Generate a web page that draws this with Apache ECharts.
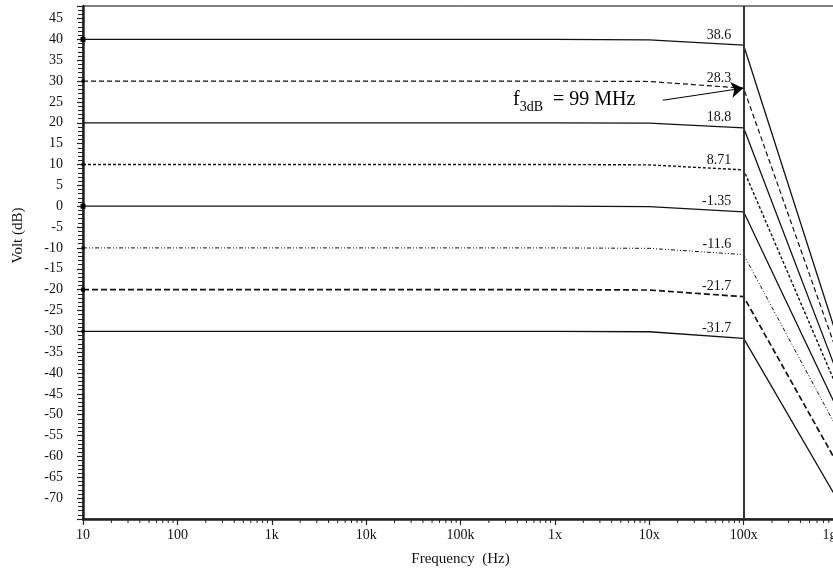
<!DOCTYPE html>
<html>
<head>
<meta charset="utf-8">
<script src="https://cdn.jsdelivr.net/npm/echarts@6/dist/echarts.min.js"></script>
<style>
  html, body { margin: 0; padding: 0; background: #fff; }
  #chart { width: 833px; height: 568px; }
</style>
</head>
<body>
<div id="chart"></div>
<script>
// Frequency sweep points (Hz), one per decade
const freqs = [10, 100, 1e3, 1e4, 1e5, 1e6, 1e7, 1e8, 1e9];

// Gain curves (dB) for each amplifier setting
const gain40  = [40, 40, 40, 40, 40, 40, 39.9, 38.6, -32];
const gain30  = [30, 30, 30, 30, 30, 30, 29.9, 28.3, -35.7];
const gain20  = [20, 20, 20, 20, 20, 20, 19.9, 18.8, -40.5];
const gain10  = [10, 10, 10, 10, 10, 10, 9.9, 8.71, -44];
const gain0   = [0, 0, 0, 0, 0, 0, -0.1, -1.35, -49];
const gainM10 = [-10, -10, -10, -10, -10, -10, -10.1, -11.6, -53.7];
const gainM20 = [-20, -20, -20, -20, -20, -20, -20.1, -21.7, -62];
const gainM30 = [-30, -30, -30, -30, -30, -30, -30.1, -31.7, -70.6];

// Cursor frequency and the values read at it
const cursorFreq = 1e8;
const cursorIndex = 7;

// Tick labels per decade exponent
const xTickLabels = ['1', '10', '100', '1k', '10k', '100k', '1x', '10x', '100x', '1g'];

// Bandwidth annotation
const f3dbText = { sub: '3dB', rest: '  = 99 MHz' };
const f3dbArrowFrom = [1.39e7, 25.4];
const f3dbArrowTo = [99e6, 28.3];
const f3dbTextAt = [3.6e5, 25.6];

const yMin = -75, yMax = 48;
const serif = 'Liberation Serif';

const curves = [
  { name: '40',  data: gain40,  dash: 'solid',            width: 1.3, firstMark: 5 },
  { name: '30',  data: gain30,  dash: [5, 3],             width: 1.2, firstMark: 3 },
  { name: '20',  data: gain20,  dash: 'solid',            width: 1.3, firstMark: 0 },
  { name: '10',  data: gain10,  dash: [3, 2],             width: 1.4, firstMark: 3 },
  { name: '0',   data: gain0,   dash: 'solid',            width: 1.3, firstMark: 5 },
  { name: '-10', data: gainM10, dash: [4, 2, 1, 2, 1, 2], width: 1.0, firstMark: 3 },
  { name: '-20', data: gainM20, dash: [6, 3],             width: 1.7, firstMark: 4 },
  { name: '-30', data: gainM30, dash: 'solid',            width: 1.3, firstMark: 3 }
];

const series = curves.map(function (c) {
  return {
    name: c.name,
    type: 'line',
    showSymbol: true,
    symbol: 'none',
    lineStyle: { color: '#111', width: c.width, type: c.dash },
    data: c.data.map(function (v, i) {
      const item = { value: [freqs[i], v] };
      if (i === 0 && c.firstMark > 0) {
        item.symbol = 'rect';
        item.symbolSize = c.firstMark;
        item.itemStyle = { color: '#000' };
      }
      if (i === cursorIndex) {
        // read-out value at the cursor
        item.symbol = 'circle';
        item.symbolSize = 1;
        item.itemStyle = { color: '#111' };
        item.label = {
          show: true,
          position: 'left',
          distance: 12,
          offset: [0, -10],
          formatter: String(v),
          fontFamily: serif,
          fontSize: 14,
          color: '#111'
        };
      }
      return item;
    }),
    z: 3
  };
});

// Cursor line at the read-out frequency
series.push({
  type: 'line',
  data: [],
  markLine: {
    silent: true,
    symbol: 'none',
    label: { show: false },
    lineStyle: { color: '#333', width: 2, type: 'solid' },
    data: [{ xAxis: cursorFreq }]
  }
});

// f3dB arrow and text
series.push({
  type: 'line',
  data: [],
  markLine: {
    silent: true,
    symbol: ['none', 'arrow'],
    symbolSize: 12,
    label: { show: false },
    lineStyle: { color: '#000', width: 1, type: 'solid' },
    data: [[{ coord: f3dbArrowFrom }, { coord: f3dbArrowTo }]]
  },
  markPoint: {
    silent: true,
    symbolSize: 0,
    data: [{
      coord: f3dbTextAt,
      label: {
        show: true,
        position: 'right',
        distance: 0,
        formatter: '{f|f}{s|' + f3dbText.sub + '}{t|' + f3dbText.rest + '}',
        rich: {
          f: { fontFamily: serif, fontSize: 20, color: '#000' },
          s: { fontFamily: serif, fontSize: 14, color: '#000', padding: [15, 0, 0, 0] },
          t: { fontFamily: serif, fontSize: 20, color: '#000' }
        }
      }
    }]
  }
});

// Log-spaced minor ticks along the frequency axis
const minorFreqs = [];
for (let e = 1; e < 9; e++) {
  for (let k = 2; k <= 9; k++) minorFreqs.push([k * Math.pow(10, e), yMin]);
}
series.push({
  type: 'custom',
  silent: true,
  clip: false,
  data: minorFreqs,
  renderItem: function (params, api) {
    const p = api.coord([api.value(0), api.value(1)]);
    return {
      type: 'line',
      shape: { x1: p[0], y1: p[1] + 1, x2: p[0], y2: p[1] + 4 },
      style: { stroke: '#222', lineWidth: 1 }
    };
  },
  z: 5
});

const chart = echarts.init(document.getElementById('chart'), null, { renderer: 'canvas' });
chart.setOption({
  animation: false,
  backgroundColor: '#fff',
  grid: {
    left: 83, right: -5, top: 6, bottom: 49,
    containLabel: false,
    outerBoundsMode: 'none',
    show: true, borderColor: '#000', borderWidth: 1, backgroundColor: '#fff'
  },
  xAxis: {
    type: 'log',
    logBase: 10,
    min: 10,
    max: 1e9,
    name: 'Frequency  (Hz)',
    nameLocation: 'middle',
    nameGap: 33,
    nameTextStyle: { fontFamily: serif, fontSize: 15, color: '#111' },
    axisLine: { show: true, onZero: false, lineStyle: { color: '#222', width: 2.5 } },
    axisTick: { show: true, length: 6, lineStyle: { color: '#222', width: 1.2 } },
    axisLabel: {
      fontFamily: serif, fontSize: 14, color: '#111', margin: 9,
      hideOverlap: false,
      showMaxLabel: true,
      formatter: function (v) {
        const e = Math.round(Math.log10(v));
        const txt = xTickLabels[e] || '';
        // the last decade label sits at the window edge; nudge it inward
        return e === xTickLabels.length - 1 ? '{edge|' + txt + '}' : txt;
      },
      rich: {
        edge: { fontFamily: serif, fontSize: 14, color: '#111', padding: [0, 17, 0, 0] }
      }
    },
    splitLine: { show: false }
  },
  yAxis: {
    type: 'value',
    min: yMin,
    max: yMax,
    interval: 5,
    name: 'Volt (dB)',
    nameLocation: 'middle',
    nameGap: 57,
    nameRotate: 90,
    nameTextStyle: { fontFamily: serif, fontSize: 15, color: '#111', padding: [0, 0, 0, 54] },
    axisLine: { show: true, onZero: false, lineStyle: { color: '#222', width: 2.5 } },
    axisTick: { show: true, length: 6, lineStyle: { color: '#222', width: 1.2 } },
    minorTick: { show: true, splitNumber: 5, length: 5, lineStyle: { color: '#222', width: 1 } },
    axisLabel: {
      fontFamily: serif, fontSize: 14, color: '#111', margin: 20,
      formatter: function (v) {
        if (v % 5 !== 0 || v <= -75 || v >= 48) return '';
        return String(v);
      }
    },
    splitLine: { show: false },
    minorSplitLine: { show: false }
  },
  series: series
});
</script>
</body>
</html>
